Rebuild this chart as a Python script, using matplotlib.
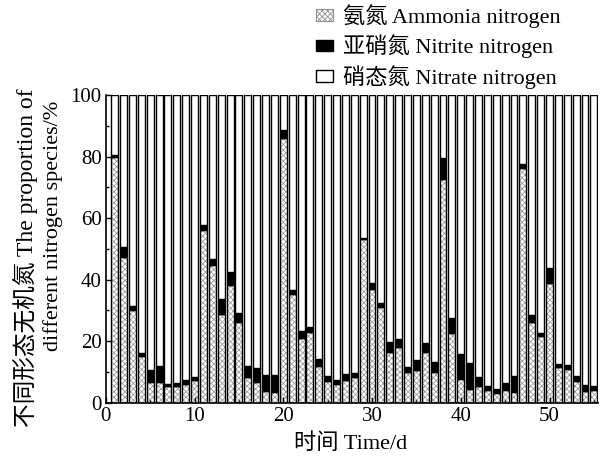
import matplotlib
matplotlib.use("Agg")
import matplotlib.pyplot as plt
import numpy as np
from matplotlib.patches import Patch
from matplotlib.ticker import MultipleLocator

plt.rcParams['font.family'] = ['Liberation Serif', 'Noto Sans CJK SC']
plt.rcParams['hatch.linewidth'] = 0.6

days = list(range(1, 56))
ammonia = [80.0, 47.4, 30.3, 15.1, 6.6, 6.6, 5.3, 5.3, 6.2, 7.5,
           56.1, 44.8, 28.8, 38.4, 26.2, 8.4, 6.6, 3.9, 3.4, 86.2,
           35.2, 21.1, 22.9, 12.0, 6.9, 6.2, 7.5, 8.4, 53.1, 37.1,
           31.2, 16.6, 18.0, 9.9, 10.7, 16.5, 10.1, 72.6, 22.8, 7.8,
           4.6, 5.3, 4.1, 3.3, 4.1, 3.6, 76.2, 26.3, 21.7, 39.0,
           11.5, 11.1, 7.0, 3.7, 4.1]
ammonia_plus_nitrite = [80.7, 50.7, 31.4, 16.0, 10.5, 11.8, 6.0, 6.4, 7.3, 8.4,
                        57.9, 46.6, 33.8, 42.5, 29.2, 12.0, 11.2, 9.0, 9.0, 88.7,
                        36.5, 23.2, 24.6, 14.2, 8.8, 7.3, 9.4, 9.7, 53.7, 38.8,
                        32.5, 19.6, 20.7, 11.6, 13.8, 19.5, 13.1, 79.7, 27.5, 15.8,
                        13.0, 8.3, 5.4, 4.6, 6.3, 8.7, 77.6, 28.5, 22.6, 43.9,
                        12.6, 12.1, 8.7, 5.9, 5.4]
nitrite = [round(t - a, 2) for t, a in zip(ammonia_plus_nitrite, ammonia)]
nitrate = [round(100 - t, 2) for t in ammonia_plus_nitrite]

labels = ['氨氮 Ammonia nitrogen', '亚硝氮 Nitrite nitrogen', '硝态氮 Nitrate nitrogen']
ylabel_lines = ['不同形态无机氮 The proportion of', 'different nitrogen species/%']
xlabel = '时间 Time/d'

fig = plt.figure(figsize=(6.03, 4.57), dpi=100)
ax = fig.add_axes([0.1755, 0.1188, 0.816, 0.673])

w = 0.78
x = np.array(days)
a = np.array(ammonia)
n = np.array(nitrite)
r = np.array(nitrate)

ax.bar(x, a, w, color='white', hatch='xxxxxx', edgecolor='#a0a0a0', linewidth=0)
ax.bar(x, a, w, fill=False, edgecolor='black', linewidth=1.0)
ax.bar(x, n, w, bottom=a, color='black', edgecolor='black', linewidth=1.0)
ax.bar(x, r, w, bottom=a + n, color='white', edgecolor='black', linewidth=1.0)

ax.set_xlim(0, 55.45)
ax.set_ylim(0, 100)
ax.xaxis.set_major_locator(MultipleLocator(10))
ax.xaxis.set_minor_locator(MultipleLocator(5))
ax.yaxis.set_major_locator(MultipleLocator(20))
ax.yaxis.set_minor_locator(MultipleLocator(10))
ax.tick_params(which='both', direction='in', labelsize=15, width=1)
ax.tick_params(which='major', length=4, pad=3)
ax.tick_params(which='minor', length=2.5)
ax.spines['top'].set_visible(False)
ax.spines['right'].set_visible(False)
ax.spines['left'].set_linewidth(1.2)
ax.spines['bottom'].set_linewidth(1.2)

fig.text(351 / 603, 1 - 444 / 457, xlabel, fontsize=16, ha='center', va='center')
fig.text(26 / 603, 1 - 258 / 457, ylabel_lines[0], fontsize=17, rotation=90,
         ha='center', va='center')
fig.text(53 / 603, 1 - 226 / 457, ylabel_lines[1], fontsize=16, rotation=90,
         ha='center', va='center')

handles = [Patch(facecolor='white', hatch='xxxxxx', edgecolor='#909090', linewidth=0.8),
           Patch(facecolor='black', edgecolor='black'),
           Patch(facecolor='white', edgecolor='black')]
fig.legend(handles, labels, loc='upper left', bbox_to_anchor=(316 / 603, 1 - 4 / 457),
           frameon=False, fontsize=16, handlelength=0.77, handleheight=0.45,
           handletextpad=0.45, labelspacing=0.3, borderaxespad=0, borderpad=0)

fig.savefig('out.png', dpi=100)
